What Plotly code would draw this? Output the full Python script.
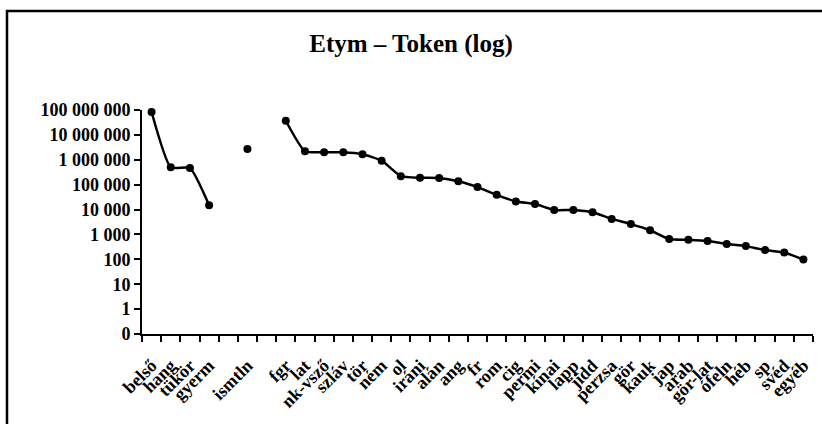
import plotly.graph_objects as go

categories = ["belső", "hang", "tükör", "gyerm", "", "ismtln", "", "fgr", "lat", "nk-vsző",
              "szláv", "tör", "ném", "ol", "iráni", "alán", "ang", "fr", "rom", "cig",
              "permi", "kínai", "lapp", "jidd", "perzsa", "gör", "kauk", "jap", "arab",
              "gör-lat", "ófeln", "héb", "sp", "svéd", "egyéb"]
tokens = [83000000, 500000, 470000, 15000, None, 2700000, None, 37000000, 2200000, 2000000,
          2000000, 1660000, 920000, 220000, 190000, 186000, 137000, 80000, 39000, 21000,
          16700, 9600, 9600, 7800, 4200, 2600, 1480, 660, 610,
          540, 415, 340, 235, 188, 98]
y_tick_vals = [0.1, 1, 10, 100, 1000, 10000, 100000, 1000000, 10000000, 100000000]
y_tick_text = ["0", "1", "10", "100", "1 000", "10 000", "100 000", "1 000 000",
               "10 000 000", "100 000 000"]
title_text = "Etym – Token (log)"

xs = list(range(len(categories)))

fig = go.Figure()
fig.add_trace(go.Scatter(
    x=xs, y=tokens, mode="lines+markers",
    line=dict(color="black", width=2.5, shape="spline", smoothing=0.5),
    marker=dict(color="black", size=8),
    connectgaps=False, showlegend=False, cliponaxis=False,
))

font_fam = "Liberation Serif"
fig.update_layout(
    width=822, height=424,
    margin=dict(l=142, r=9, t=110, b=90),
    paper_bgcolor="white", plot_bgcolor="white",
    title=dict(text=title_text, x=0.5, xref="container", xanchor="center",
               y=1 - 43 / 424, yref="container", yanchor="middle",
               font=dict(family=font_fam, size=25, color="black", weight="bold")),
    xaxis=dict(
        range=[-0.5, len(categories) - 0.5],
        tickmode="array", tickvals=xs, ticktext=categories,
        ticks="", tickangle=-45,
        tickfont=dict(family=font_fam, size=18, color="black", weight="bold"),
        showline=True, linecolor="black", linewidth=2,
        showgrid=False, zeroline=False,
        ticklabelstandoff=12,
        minor=dict(tickmode="array",
                   tickvals=[i - 0.5 for i in range(len(categories) + 1)],
                   ticks="outside", ticklen=6, tickwidth=2, tickcolor="black",
                   showgrid=False),
    ),
    yaxis=dict(
        type="log", range=[-1, 8],
        tickmode="array", tickvals=y_tick_vals, ticktext=y_tick_text,
        ticks="outside", ticklen=6, tickwidth=2, tickcolor="black",
        tickfont=dict(family=font_fam, size=18, color="black", weight="bold"),
        showline=True, linecolor="black", linewidth=2,
        showgrid=False, zeroline=False,
    ),
    shapes=[dict(type="rect", xref="paper", yref="paper",
                 x0=(7 - 142) / 671, x1=1.06, y0=-0.6, y1=(334 - 11) / 224,
                 line=dict(color="black", width=2.5), fillcolor="rgba(0,0,0,0)",
                 layer="above")],
)

fig.write_html("out.html", config={"displayModeBar": False},
               post_script="document.body.style.margin='0';document.body.style.overflow='hidden';")
